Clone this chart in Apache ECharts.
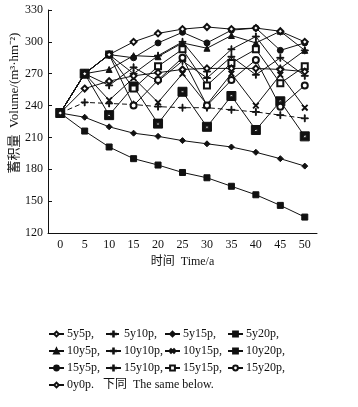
<!DOCTYPE html>
<html>
<head>
<meta charset="utf-8">
<script src="https://cdn.jsdelivr.net/npm/echarts@6/dist/echarts.min.js"></script>
<style>
  html, body { margin: 0; padding: 0; background: #fff; }
  #chart { width: 358px; height: 407px; }
</style>
</head>
<body>
<div id="chart"></div>
<script>
// time (a)
const years = ['0', '5', '10', '15', '20', '25', '30', '35', '40', '45', '50'];
const yTicks = [120, 150, 180, 210, 240, 270, 300, 330];

// volume (m3/hm2) per scenario
const v5y5p   = [233, 256, 263, 268, 271, 274, 275, 275, 275, 274, 272];
const v5y10p  = [233, 243, 242, 241, 239, 238, 238, 236, 234, 231, 228];
const v5y15p  = [233, 229, 220, 214, 211, 207, 204, 201, 196, 190, 183];
const v5y20p  = [233, 216, 201, 190, 184, 177, 172, 164, 156, 146, 135];
const v10y5p  = [233, 270, 274, 287, 286, 299, 294, 306, 299, 310, 292];
const v10y10p = [233, 270, 259, 276, 263, 282, 266, 286, 269, 285, 268];
const v10y15p = [233, 270, 245, 266, 243, 270, 241, 270, 240, 269, 238];
const v10y20p = [233, 270, 231, 258, 223, 253, 220, 249, 217, 244, 211];
const v15y5p  = [233, 270, 288, 285, 299, 309, 299, 311, 313, 292, 299];
const v15y10p = [233, 270, 288, 270, 287, 300, 272, 293, 305, 275, 292];
const v15y15p = [233, 270, 288, 256, 277, 293, 259, 280, 293, 261, 277];
const v15y20p = [233, 270, 288, 240, 264, 285, 240, 264, 283, 239, 259];
const v0y0p   = [233, 270, 288, 300, 308, 312, 314, 312, 313, 310, 300];

const FONT = "'Liberation Serif', 'Noto Sans CJK SC', serif";
const PLUS = 'path://M4.4,0H5.6V4.4H10V5.6H5.6V10H4.4V5.6H0V4.4H4.4Z';
const HOLLOW_SQ = 'path://M0,0H10V10H0Z M3.5,3.5V6.5H6.5V3.5Z';

function line(name, data, symbol, size, extra) {
    return Object.assign({
        name: name,
        type: 'line',
        data: data,
        symbol: symbol,
        symbolSize: size,
        showAllSymbol: true,
        lineStyle: { color: '#111', width: 1 },
        itemStyle: { color: '#111', borderColor: '#111', borderWidth: 1 },
        emphasis: { disabled: true },
        animation: false
    }, extra || {});
}

const series = [
    line('5y20p', v5y20p, 'rect', 6),
    line('5y15p', v5y15p, 'diamond', 6),
    line('5y10p', v5y10p, PLUS, 7, { lineStyle: { color: '#111', width: 1, type: [5, 3] } }),
    line('10y20p', v10y20p, HOLLOW_SQ, 9),
    line('10y15p', v10y15p, PLUS, 7, { symbolRotate: 45 }),
    line('10y10p', v10y10p, PLUS, 7),
    line('15y20p', v15y20p, 'emptyCircle', 6),
    line('15y15p', v15y15p, 'emptyRect', 6),
    line('15y10p', v15y10p, PLUS, 7),
    line('5y5p', v5y5p, 'emptyDiamond', 6),
    line('10y5p', v10y5p, 'triangle', 6),
    line('15y5p', v15y5p, 'circle', 6),
    line('0y0p', v0y0p, 'emptyDiamond', 6)
];

const legendCols = [
    ['5y5p', '10y5p', '15y5p', '0y0p'],
    ['5y10p', '10y10p', '15y10p'],
    ['5y15p', '10y15p', '15y15p'],
    ['5y20p', '10y20p', '15y20p']
];
const legendLeft = [48, 105, 164, 227];

const chart = echarts.init(document.getElementById('chart'));
chart.setOption({
    backgroundColor: '#fff',
    animation: false,
    grid: { left: 48, right: 41, top: 10, bottom: 174 },
    xAxis: {
        type: 'category',
        data: years,
        boundaryGap: true,
        name: '时间  Time/a',
        nameLocation: 'middle',
        nameGap: 22,
        nameTextStyle: { fontFamily: FONT, fontSize: 12, color: '#111' },
        axisLine: { lineStyle: { color: '#111', width: 1 } },
        axisTick: { inside: true, length: 4, lineStyle: { color: '#111' } },
        axisLabel: { fontFamily: FONT, fontSize: 12, color: '#111', margin: 6 },
        splitLine: { show: false }
    },
    yAxis: {
        type: 'value',
        min: yTicks[0],
        max: yTicks[yTicks.length - 1],
        interval: 30,
        axisLine: { show: true, lineStyle: { color: '#111', width: 1 } },
        axisTick: { show: true, inside: true, length: 4, lineStyle: { color: '#111' } },
        axisLabel: { fontFamily: FONT, fontSize: 12, color: '#111', margin: 5 },
        splitLine: { show: false }
    },
    graphic: [{
        type: 'text',
        x: 15,
        y: 103,
        rotation: Math.PI / 2,
        style: {
            text: '蓄积量  Volume/(m³·hm⁻²)',
            font: '13px ' + FONT,
            fill: '#111',
            align: 'center',
            verticalAlign: 'middle'
        }
    }],
    legend: legendCols.map((col, i) => ({
        data: col,
        orient: 'vertical',
        left: legendLeft[i],
        top: 327,
        itemWidth: 15,
        itemHeight: 6,
        itemGap: 3,
        padding: 0,
        selectedMode: false,
        textStyle: { fontFamily: FONT, fontSize: 12, lineHeight: 14, color: '#111', padding: [0, 0, 0, -2] },
        formatter: name => name === '0y0p' ? '0y0p.   下同  The same below.' : name + ','
    })),
    series: series
});
</script>
</body>
</html>
